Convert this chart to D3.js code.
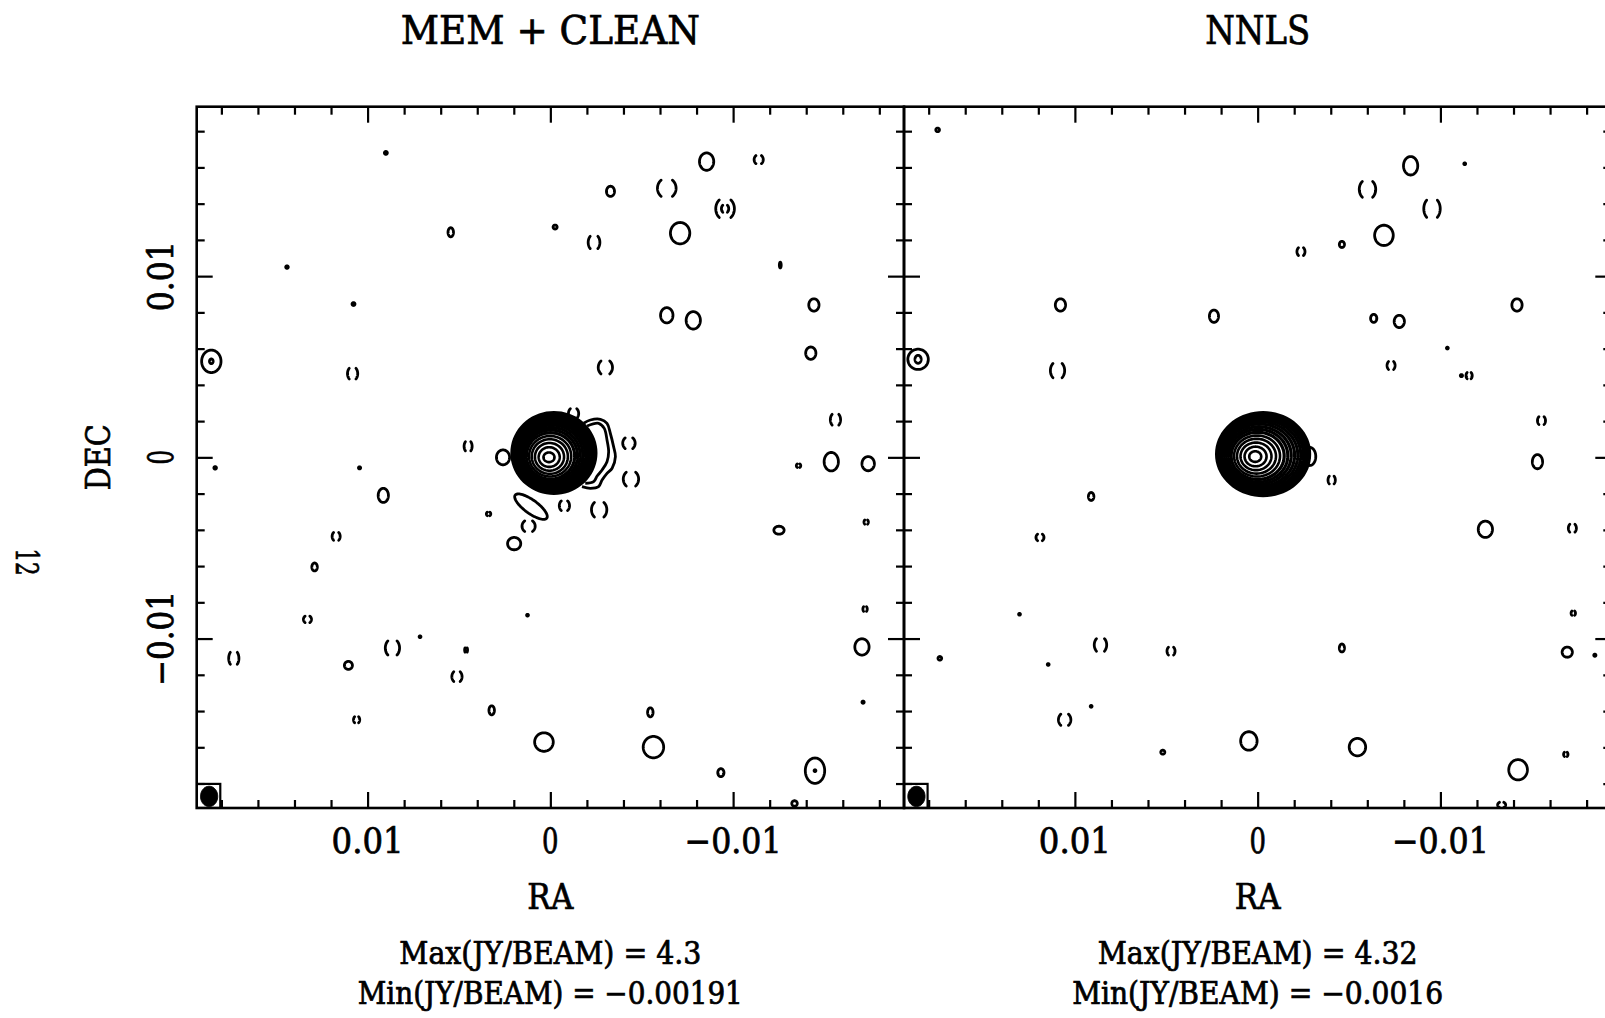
<!DOCTYPE html>
<html><head><meta charset="utf-8">
<script src="https://cdn.jsdelivr.net/npm/d3@7"></script>
<style>body{margin:0;background:#fff;} svg{display:block;}</style>
</head><body>
<svg id="chart" width="1605" height="1018"></svg>
<script>
// ---------------- DATA ----------------
const panelTitles = ["MEM + CLEAN", "NNLS"];
const raDomain = [0.01935, -0.01935];
const decDomain = [-0.01935, 0.01935];
const majorTicks = [0.01, 0, -0.01];
const majorTickLabels = ["0.01", "0", "\u22120.01"];
const minorTicks = [-0.018,-0.016,-0.014,-0.012,-0.008,-0.006,-0.004,-0.002,0.002,0.004,0.006,0.008,0.012,0.014,0.016,0.018];
const axisNames = ["RA", "DEC"];
const maxLabels = ["Max(JY/BEAM) = 4.3", "Max(JY/BEAM) = 4.32"];
const minLabels = ["Min(JY/BEAM) = \u22120.00191", "Min(JY/BEAM) = \u22120.0016"];
const pageNumber = "12";

// beam: [ra, dec, halfRA, halfDEC]; box corners [ra1, dec1, ra2, dec2]
const beam = [0.01867, -0.01871, 0.00047, 0.00056];
const beamBox = [0.01935, -0.01935, 0.01806, -0.01802];

// central source peaks [ra, dec]
const peakMem = [0.00008, 0.0];
const peakNnls = [0.00014, 0.00004];

// central source contours relative to peak: [dRA, dDEC, rRA, rDEC]
const blobMem = [
  [-0.000005,0.000004,0.000302,0.000266],
  [-0.000017,0.000015,0.000577,0.000542],
  [-0.000033,0.000029,0.000797,0.000765],
  [-0.000051,0.000045,0.000989,0.000955],
  [-0.000069,0.000061,0.001154,0.001117],
  [-0.000091,0.000080,0.001319,0.001279],
  [-0.000111,0.000098,0.001456,0.001412],
  [-0.000131,0.000115,0.001582,0.001535],
  [-0.000151,0.000134,0.001703,0.001652],
  [-0.000171,0.000151,0.001813,0.001759],
  [-0.000191,0.000168,0.001912,0.001855],
  [-0.000210,0.000185,0.002005,0.001945],
  [-0.000227,0.000201,0.002088,0.002025],
  [-0.000244,0.000216,0.002165,0.002100],
  [-0.000261,0.000230,0.002236,0.002169],
  [-0.000275,0.000243,0.002297,0.002228]
];
const blobNnls = [
  [-0.000007,0.000002,0.000328,0.000292],
  [-0.000025,0.000008,0.000602,0.000541],
  [-0.000049,0.000015,0.000848,0.000762],
  [-0.000077,0.000024,0.001067,0.000960],
  [-0.000107,0.000034,0.001258,0.001131],
  [-0.000142,0.000045,0.001450,0.001302],
  [-0.000176,0.000055,0.001614,0.001451],
  [-0.000212,0.000067,0.001767,0.001584],
  [-0.000248,0.000078,0.001915,0.001722],
  [-0.000285,0.000090,0.002052,0.001843],
  [-0.000321,0.000101,0.002178,0.001953],
  [-0.000354,0.000112,0.002287,0.002053],
  [-0.000385,0.000121,0.002385,0.002141],
  [-0.000414,0.000130,0.002473,0.002218],
  [-0.000438,0.000138,0.002544,0.002285]
];

// extended low-level lobe east of the MEM+CLEAN source [ra, dec]
const lobeOuterMem = [
  [-0.00182,0.00188],[-0.00219,0.00206],[-0.00274,0.00210],[-0.00310,0.00188],
  [-0.00328,0.00133],[-0.00346,0.00059],[-0.00356,0.00004],[-0.00338,-0.00060],
  [-0.00310,-0.00088],[-0.00283,-0.00125],[-0.00264,-0.00162],[-0.00219,-0.00171],
  [-0.00173,-0.00162]
];
const lobeInnerMem = [
  [-0.00201,0.00173],[-0.00264,0.00188],[-0.00295,0.00160],[-0.00310,0.00096],
  [-0.00319,0.00031],[-0.00310,-0.00024],[-0.00283,-0.00070],[-0.00256,-0.00103],
  [-0.00237,-0.00134],[-0.00191,-0.00143]
];

// small contours: [ra, dec, rRA, rDEC, sign(+1 positive, -1 negative), pa]
const featuresMem = [
  [0.0090,0.0168,0.00008,0.00008,1],
  [-0.00855,0.01632,0.00039,0.00048,1],
  [-0.0114,0.01643,0.00025,0.00028,-1],
  [-0.00329,0.01468,0.00022,0.00028,1],
  [-0.00637,0.01485,0.00051,0.00056,-1],
  [-0.00956,0.01372,0.00051,0.00062,-1],
  [-0.00956,0.01372,0.00020,0.00025,-1],
  [0.00545,0.01242,0.00015,0.00025,1],
  [-0.00026,0.01271,0.00011,0.00011,1],
  [-0.00239,0.01186,0.00032,0.00045,-1],
  [-0.0071,0.01237,0.00053,0.00059,1],
  [0.01441,0.0105,0.00007,0.00007,1],
  [-0.01258,0.01061,0.00005,0.00016,1],
  [0.01077,0.00846,0.00008,0.00008,1],
  [-0.00637,0.00784,0.00034,0.00042,1],
  [-0.00782,0.00756,0.00039,0.00048,1],
  [-0.01442,0.00841,0.00028,0.00034,1],
  [0.01855,0.0053,0.00053,0.00062,1],
  [0.01855,0.0053,0.00010,0.00013,1],
  [0.01082,0.00462,0.00028,0.00039,-1],
  [-0.00301,0.00496,0.00039,0.00045,-1],
  [-0.01425,0.00575,0.00028,0.00034,1],
  [-0.0156,0.00208,0.00028,0.00039,-1],
  [0.0045,0.00061,0.00022,0.00034,-1],
  [0.00259,0.0,0.00036,0.00041,1],
  [0.01834,-0.00058,0.00007,0.00007,1],
  [0.01044,-0.00058,0.00006,0.00006,1],
  [-0.01358,-0.00046,0.00012,0.00012,-1],
  [-0.01537,-0.00024,0.00039,0.00051,1],
  [-0.01739,-0.00035,0.00034,0.00039,1],
  [0.00914,-0.0021,0.00028,0.00039,1],
  [0.01172,-0.00436,0.00022,0.00028,-1],
  [-0.01251,-0.00402,0.00028,0.00022,1],
  [-0.01728,-0.00357,0.00012,0.00015,-1],
  [0.0129,-0.00605,0.00015,0.00022,1],
  [0.01329,-0.00894,0.00022,0.00022,-1],
  [0.00125,-0.00871,0.00005,0.00005,1],
  [0.01732,-0.01109,0.00028,0.00045,-1],
  [0.01105,-0.01148,0.00022,0.00022,1],
  [0.00864,-0.01052,0.00039,0.00051,-1],
  [0.00713,-0.0099,0.00005,0.00005,1],
  [0.00461,-0.01063,0.00008,0.00017,-1],
  [0.00511,-0.0121,0.00028,0.00034,-1],
  [-0.01722,-0.00837,0.00012,0.00017,-1],
  [-0.01705,-0.01046,0.00039,0.00045,1],
  [-0.01711,-0.01351,0.00006,0.00006,1],
  [0.00321,-0.01396,0.00015,0.00025,1],
  [-0.00547,-0.01407,0.00015,0.00025,1],
  [0.0106,-0.01448,0.00017,0.00022,-1],
  [0.00035,-0.01571,0.00051,0.00051,1],
  [-0.00564,-0.01599,0.00056,0.00059,1],
  [-0.00933,-0.0174,0.00017,0.00022,1],
  [-0.01448,-0.01729,0.00053,0.0007,1],
  [-0.01448,-0.01729,0.00005,0.00005,1],
  [-0.01336,-0.0191,0.00015,0.00015,1],
  [-0.00127,0.00242,0.00028,0.00034,-1],
  [-0.0043,0.00078,0.00034,0.00037,-1],
  [-0.00441,-0.0012,0.00042,0.00048,-1],
  [-0.00267,-0.00289,0.00042,0.00051,-1],
  [-0.00077,-0.00267,0.00028,0.00034,-1],
  [0.00106,-0.00272,0.00107,0.00037,1,36],
  [0.00119,-0.0038,0.00036,0.00036,-1],
  [0.00198,-0.00476,0.00036,0.00034,1],
  [0.00338,-0.00312,0.00012,0.00012,-1]
];
const featuresNnls = [
  [0.01751,0.01807,0.0001,0.0001,1],
  [-0.00837,0.01609,0.00039,0.00051,1],
  [-0.01133,0.0162,0.00005,0.00005,1],
  [-0.00601,0.01479,0.00045,0.00056,-1],
  [-0.00954,0.01372,0.00045,0.00062,-1],
  [-0.00691,0.01225,0.00051,0.00056,1],
  [-0.00461,0.01175,0.00014,0.00017,1],
  [-0.00237,0.01135,0.00022,0.00028,-1],
  [0.01079,0.00841,0.00028,0.00034,1],
  [0.00239,0.00779,0.00025,0.00034,1],
  [-0.00635,0.00767,0.00017,0.00022,1],
  [-0.00775,0.0075,0.00028,0.00034,1],
  [-0.01419,0.00841,0.00028,0.00034,1],
  [-0.01038,0.00603,0.00005,0.00005,1],
  [0.01858,0.00541,0.00056,0.00056,1],
  [0.01858,0.00541,0.00017,0.00022,1],
  [0.01095,0.00479,0.00039,0.00051,-1],
  [-0.0073,0.00507,0.00022,0.00028,-1],
  [-0.01157,0.00451,0.00017,0.00022,-1],
  [-0.01115,0.00451,0.00006,0.00006,1],
  [-0.01553,0.00203,0.00022,0.00028,-1],
  [-0.01531,-0.00024,0.00028,0.00039,1],
  [-0.00285,0.00005,0.00033,0.0005,1],
  [-0.00405,-0.00125,0.0002,0.00028,-1],
  [0.00911,-0.00216,0.00015,0.00022,1],
  [0.01191,-0.00442,0.00022,0.00022,-1],
  [-0.01246,-0.00397,0.00039,0.00045,1],
  [-0.01722,-0.00391,0.00022,0.00028,-1],
  [0.01303,-0.00866,0.00005,0.00005,1],
  [-0.01727,-0.0086,0.00012,0.00015,-1],
  [0.0086,-0.01035,0.00034,0.00045,-1],
  [0.00474,-0.01069,0.00022,0.00028,-1],
  [-0.00461,-0.01052,0.00014,0.00022,1],
  [0.01146,-0.01143,0.00005,0.00005,1],
  [0.01739,-0.01109,0.0001,0.0001,1],
  [-0.01694,-0.01075,0.00028,0.00028,1],
  [-0.01845,-0.01092,0.00006,0.00006,1],
  [0.00911,-0.01374,0.00005,0.00005,1],
  [0.01056,-0.01448,0.00034,0.00039,-1],
  [0.00519,-0.01627,0.00011,0.00011,1],
  [0.00048,-0.01565,0.00045,0.00051,1],
  [-0.00546,-0.01599,0.00045,0.00048,1],
  [-0.01425,-0.01724,0.00051,0.00056,1],
  [-0.01686,-0.01639,0.00012,0.00015,-1],
  [-0.01335,-0.01918,0.00022,0.00017,-1]
];

// ---------------- LAYOUT / STYLE ----------------
const FONT = "'DejaVu Serif Condensed','DejaVu Serif',serif";
const panels = [
  {x0:196.7, x1:904.0, title:panelTitles[0], titleLen:299, maxLen:302, minLen:385,
   peak:peakMem, blob:blobMem, feats:featuresMem, lobes:[lobeOuterMem, lobeInnerMem]},
  {x0:904.0, x1:1611.3, title:panelTitles[1], titleLen:105, maxLen:320, minLen:371,
   peak:peakNnls, blob:blobNnls, feats:featuresNnls, lobes:[]}
];
const Y0 = 106.7, Y1 = 808.0;
const tickLabelLen = {"0.01":72, "0":16.5, "\u22120.01":97};

const svg = d3.select("#chart");
svg.append("rect").attr("width",1605).attr("height",1018).attr("fill","#fff");

function ellipsePath(xs, ys, ra, dec, rx, ry, pa) {
  const cx = xs(ra), cy = ys(dec);
  const a = Math.abs(xs(ra + rx) - cx), b = Math.abs(ys(dec + ry) - cy);
  const t = (pa || 0) * Math.PI / 180;
  const n = 72;
  const pts = d3.range(n).map(i => {
    const th = i / n * 2 * Math.PI;
    const ex = a * Math.cos(th), ey = b * Math.sin(th);
    return [cx + ex * Math.cos(t) - ey * Math.sin(t), cy + ex * Math.sin(t) + ey * Math.cos(t)];
  });
  return d3.line().curve(d3.curveLinearClosed)(pts);
}

function txt(g, attrs, s) {
  const t = g.append("text").attr("font-family", FONT).attr("fill", "#000")
    .attr("stroke", "#000").attr("stroke-width", 0.7).attr("lengthAdjust", "spacingAndGlyphs");
  Object.entries(attrs).forEach(([k, v]) => t.attr(k, v));
  t.text(s);
  return t;
}

const ys = d3.scaleLinear().domain(decDomain).range([Y1, Y0]);

panels.forEach((p, pi) => {
  const xs = d3.scaleLinear().domain(raDomain).range([p.x0, p.x1]);
  const g = svg.append("g");
  const clipId = "clip" + pi;
  svg.append("clipPath").attr("id", clipId).append("rect")
    .attr("x", p.x0).attr("y", Y0).attr("width", p.x1 - p.x0).attr("height", Y1 - Y0);
  const content = g.append("g").attr("clip-path", `url(#${clipId})`);

  // small contours
  p.feats.forEach(f => {
    const path = content.append("path")
      .attr("d", ellipsePath(xs, ys, f[0], f[1], f[2], f[3], f[5]))
      .attr("fill", "none").attr("stroke", "#000").attr("stroke-width", 2.8)
      .attr("stroke-linejoin", "round").attr("stroke-linecap", "round");
    if (f[4] < 0) {
      const L = path.node().getTotalLength();
      path.attr("stroke-dasharray", `${0.3 * L} ${0.2 * L}`).attr("stroke-dashoffset", 0.15 * L);
    }
  });

  // extended lobe
  const lobeLine = d3.line().x(d => xs(d[0])).y(d => ys(d[1])).curve(d3.curveCatmullRom);
  p.lobes.forEach(l => {
    content.append("path").attr("d", lobeLine(l))
      .attr("fill", "none").attr("stroke", "#000").attr("stroke-width", 2.8);
  });

  // central source contours
  p.blob.forEach((c, i) => {
    content.append("path")
      .attr("d", ellipsePath(xs, ys, p.peak[0] + c[0], p.peak[1] + c[1], c[2], c[3], 0))
      .attr("fill", "none").attr("stroke", "#000").attr("stroke-width", i < 5 ? 2.6 : 3.2);
  });

  // beam box
  content.append("rect")
    .attr("x", xs(beamBox[0])).attr("y", ys(beamBox[3]))
    .attr("width", xs(beamBox[2]) - xs(beamBox[0])).attr("height", ys(beamBox[1]) - ys(beamBox[3]))
    .attr("fill", "none").attr("stroke", "#000").attr("stroke-width", 2.2);
  content.append("path")
    .attr("d", ellipsePath(xs, ys, beam[0], beam[1], beam[2], beam[3], 0))
    .attr("fill", "#000").attr("stroke", "#000").attr("stroke-width", 1);

  // frame
  g.append("rect").attr("x", p.x0).attr("y", Y0).attr("width", p.x1 - p.x0).attr("height", Y1 - Y0)
    .attr("fill", "none").attr("stroke", "#000").attr("stroke-width", 2.6);

  // ticks
  const tickStyle = sel => { sel.select(".domain").remove(); sel.selectAll("line").attr("stroke", "#000").attr("stroke-width", 2.2); sel.selectAll("text").remove(); };
  [[minorTicks, 8], [majorTicks, 16]].forEach(([vals, len]) => {
    g.append("g").attr("transform", `translate(0,${Y0})`)
      .call(d3.axisTop(xs).tickValues(vals).tickSize(-len).tickFormat("")).call(tickStyle);
    g.append("g").attr("transform", `translate(0,${Y1})`)
      .call(d3.axisBottom(xs).tickValues(vals).tickSize(-len).tickFormat("")).call(tickStyle);
    g.append("g").attr("transform", `translate(${p.x0},0)`)
      .call(d3.axisLeft(ys).tickValues(vals).tickSize(-len).tickFormat("")).call(tickStyle);
    g.append("g").attr("transform", `translate(${p.x1},0)`)
      .call(d3.axisRight(ys).tickValues(vals).tickSize(-len).tickFormat("")).call(tickStyle);
  });

  // texts
  const cx0 = xs(0);
  txt(g, {x: cx0, y: 44, "text-anchor": "middle", "font-size": 40, textLength: p.titleLen}, p.title);
  majorTicks.forEach((v, i) => {
    const lab = majorTickLabels[i];
    txt(g, {x: xs(v), y: 852.6, "text-anchor": "middle", "font-size": 35, textLength: tickLabelLen[lab]}, lab);
  });
  txt(g, {x: cx0, y: 908.6, "text-anchor": "middle", "font-size": 36, textLength: 46}, axisNames[0]);
  txt(g, {x: cx0, y: 964, "text-anchor": "middle", "font-size": 31, textLength: p.maxLen}, maxLabels[pi]);
  txt(g, {x: cx0, y: 1004, "text-anchor": "middle", "font-size": 31, textLength: p.minLen}, minLabels[pi]);

  if (pi === 0) {
    majorTicks.forEach((v, i) => {
      const lab = majorTickLabels[i];
      txt(g, {transform: `translate(173,${ys(v)}) rotate(-90)`, "text-anchor": "middle",
              "font-size": 35, textLength: tickLabelLen[lab] - 2}, lab);
    });
    txt(g, {transform: `translate(110,${ys(0)}) rotate(-90)`, "text-anchor": "middle",
            "font-size": 34, textLength: 66}, axisNames[1]);
    txt(g, {transform: `translate(15.5,562) rotate(90)`, "text-anchor": "middle",
            "font-size": 32, textLength: 27}, pageNumber);
  }
});
</script>
</body></html>
